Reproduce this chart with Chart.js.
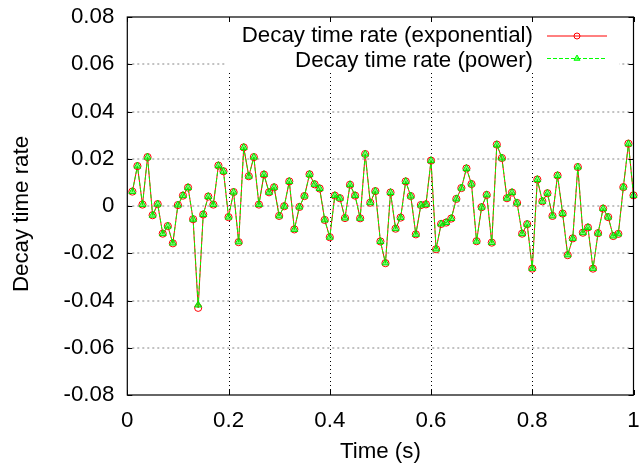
<!DOCTYPE html>
<html>
<head>
<meta charset="utf-8">
<script src="https://cdn.jsdelivr.net/npm/chart.js@4/dist/chart.umd.min.js"></script>
<style>
html,body{margin:0;padding:0;background:#fff;}
canvas{display:block;}
</style>
</head>
<body>
<canvas id="c" width="642" height="470"></canvas>
<script>
const times = [0.01,0.02,0.03,0.04,0.05,0.06,0.07,0.08,0.09,0.10,
0.11,0.12,0.13,0.14,0.15,0.16,0.17,0.18,0.19,0.20,
0.21,0.22,0.23,0.24,0.25,0.26,0.27,0.28,0.29,0.30,
0.31,0.32,0.33,0.34,0.35,0.36,0.37,0.38,0.39,0.40,
0.41,0.42,0.43,0.44,0.45,0.46,0.47,0.48,0.49,0.50,
0.51,0.52,0.53,0.54,0.55,0.56,0.57,0.58,0.59,0.60,
0.61,0.62,0.63,0.64,0.65,0.66,0.67,0.68,0.69,0.70,
0.71,0.72,0.73,0.74,0.75,0.76,0.77,0.78,0.79,0.80,
0.81,0.82,0.83,0.84,0.85,0.86,0.87,0.88,0.89,0.90,
0.91,0.92,0.93,0.94,0.95,0.96,0.97,0.98,0.99,1.00];

const expRate = [0.0061,0.0169,0.0006,0.0207,-0.0039,0.0008,-0.0117,-0.0085,-0.0158,0.0004,
0.0044,0.0078,-0.0056,-0.0431,-0.0036,0.0040,0.0006,0.0171,0.0147,-0.0047,
0.0059,-0.0153,0.0248,0.0126,0.0207,0.0006,0.0133,0.0058,0.0079,-0.0042,
-0.0001,0.0104,-0.0099,-0.0004,0.0042,0.0134,0.0092,0.0074,-0.0059,-0.0132,
0.0044,0.0033,-0.0051,0.0090,0.0044,-0.0052,0.0220,0.0014,0.0063,-0.0150,
-0.0242,0.0057,-0.0096,-0.0049,0.0104,0.0042,-0.0120,0.0004,0.0007,0.0192,
-0.0183,-0.0076,-0.0070,-0.0053,0.0030,0.0076,0.0159,0.0093,-0.0149,-0.0005,
0.0047,-0.0155,0.0260,0.0203,0.0033,0.0057,0.0013,-0.0117,-0.0077,-0.0265,
0.0112,0.0020,0.0054,-0.0042,0.0129,-0.0032,-0.0208,-0.0137,0.0165,-0.0113,
-0.0091,-0.0265,-0.0115,-0.0011,-0.0047,-0.0127,-0.0118,0.0080,0.0264,0.0045];

const powRate = [0.0061,0.0169,0.0006,0.0207,-0.0039,0.0008,-0.0117,-0.0085,-0.0157,0.0004,
0.0044,0.0078,-0.0056,-0.0419,-0.0036,0.0040,0.0006,0.0171,0.0147,-0.0047,
0.0059,-0.0152,0.0248,0.0126,0.0207,0.0006,0.0133,0.0058,0.0079,-0.0042,
-0.0001,0.0104,-0.0099,-0.0004,0.0042,0.0134,0.0092,0.0074,-0.0059,-0.0132,
0.0044,0.0033,-0.0051,0.0090,0.0044,-0.0052,0.0220,0.0014,0.0063,-0.0150,
-0.0241,0.0057,-0.0096,-0.0049,0.0104,0.0042,-0.0120,0.0004,0.0007,0.0192,
-0.0182,-0.0076,-0.0070,-0.0053,0.0030,0.0076,0.0159,0.0093,-0.0149,-0.0005,
0.0047,-0.0155,0.0259,0.0203,0.0033,0.0057,0.0013,-0.0117,-0.0077,-0.0264,
0.0112,0.0020,0.0054,-0.0042,0.0129,-0.0032,-0.0207,-0.0137,0.0165,-0.0113,
-0.0091,-0.0264,-0.0115,-0.0011,-0.0047,-0.0127,-0.0118,0.0080,0.0263,0.0045];

const seriesNames = ['Decay time rate (exponential)', 'Decay time rate (power)'];
const xTitle = 'Time (s)';
const yTitle = 'Decay time rate';

const FONT = '"Liberation Sans", Arial, Helvetica, sans-serif';
const FSIZE = 22.3;

const toXY = (xs, ys) => xs.map((t, i) => ({x: t, y: ys[i]}));

const framePlugin = {
  id: 'frame',
  beforeDatasetsDraw(chart) {
    const {ctx, chartArea: a, scales: {x, y}} = chart;
    ctx.save();
    ctx.lineWidth = 1;
    ctx.strokeStyle = '#858585';
    ctx.setLineDash([2, 3]);
    y.ticks.forEach(t => {
      if (t.value <= y.min + 1e-9 || t.value >= y.max - 1e-9) return;
      const py = Math.round(y.getPixelForValue(t.value));
      ctx.beginPath(); ctx.moveTo(a.left, py); ctx.lineTo(a.right, py); ctx.stroke();
    });
    ctx.strokeStyle = '#000';
    ctx.setLineDash([1, 3]);
    x.ticks.forEach(t => {
      if (t.value <= x.min + 1e-9 || t.value >= x.max - 1e-9) return;
      const px = Math.round(x.getPixelForValue(t.value)) + 0.5;
      ctx.beginPath(); ctx.moveTo(px, a.top); ctx.lineTo(px, a.bottom); ctx.stroke();
    });
    ctx.restore();
  },
  afterDatasetsDraw(chart) {
    const {ctx} = chart;
    ctx.save();
    ctx.fillStyle = '#fff';
    ctx.fillRect(226, 19, 393, 51);
    ctx.font = FSIZE + 'px ' + FONT;
    ctx.fillStyle = '#000';
    ctx.textAlign = 'right';
    ctx.textBaseline = 'alphabetic';
    ctx.fillText(seriesNames[0], 533, 42);
    ctx.fillText(seriesNames[1], 533, 66.5);
    // sample 1
    ctx.lineWidth = 1;
    ctx.strokeStyle = '#ff0000';
    ctx.beginPath(); ctx.moveTo(547, 36); ctx.lineTo(607, 36); ctx.stroke();
    ctx.beginPath(); ctx.arc(577, 36, 3, 0, Math.PI * 2); ctx.stroke();
    // sample 2
    ctx.strokeStyle = '#00ff00';
    ctx.setLineDash([4, 2]);
    ctx.beginPath(); ctx.moveTo(547, 58.5); ctx.lineTo(607, 58.5); ctx.stroke();
    ctx.setLineDash([]);
    const r = 3.5, cx = 577, cy = 58.5;
    ctx.beginPath();
    for (let k = 0; k < 3; k++) {
      const ang = k * 2 * Math.PI / 3;
      const px = cx + Math.sin(ang) * r, py = cy - Math.cos(ang) * r;
      if (k === 0) ctx.moveTo(px, py); else ctx.lineTo(px, py);
    }
    ctx.closePath();
    ctx.fillStyle = 'rgba(0,255,0,0.5)';
    ctx.fill();
    ctx.stroke();
    ctx.restore();
  },
  afterDraw(chart) {
    const {ctx, chartArea: a, scales: {x, y}} = chart;
    ctx.save();
    ctx.strokeStyle = '#000';
    ctx.lineWidth = 1;
    ctx.setLineDash([]);
    const tl = 5;
    y.ticks.forEach(t => {
      const py = Math.round(y.getPixelForValue(t.value)) + 0.5;
      ctx.beginPath(); ctx.moveTo(a.left, py); ctx.lineTo(a.left + tl, py); ctx.stroke();
      ctx.beginPath(); ctx.moveTo(a.right, py); ctx.lineTo(a.right - tl, py); ctx.stroke();
    });
    x.ticks.forEach(t => {
      const px = Math.round(x.getPixelForValue(t.value)) + 0.5;
      ctx.beginPath(); ctx.moveTo(px, a.bottom); ctx.lineTo(px, a.bottom - tl); ctx.stroke();
      ctx.beginPath(); ctx.moveTo(px, a.top); ctx.lineTo(px, a.top + tl); ctx.stroke();
    });
    ctx.lineWidth = 1.2;
    ctx.strokeRect(a.left, a.top, a.right - a.left, a.bottom - a.top);
    // axis titles
    ctx.fillStyle = '#000';
    ctx.font = FSIZE + 'px ' + FONT;
    ctx.textAlign = 'center';
    ctx.textBaseline = 'middle';
    ctx.fillText(xTitle, (a.left + a.right) / 2, 452);
    ctx.translate(22, 214);
    ctx.rotate(-Math.PI / 2);
    ctx.fillText(yTitle, 0, 0);
    ctx.restore();
  }
};

new Chart(document.getElementById('c'), {
  type: 'line',
  data: {
    datasets: [
      {
        label: seriesNames[0],
        data: toXY(times, expRate),
        borderColor: '#ff0000',
        borderWidth: 1,
        pointStyle: 'circle',
        pointRadius: 3.6,
        pointBorderColor: '#ff0000',
        pointBackgroundColor: 'rgba(255,255,255,0)',
        pointBorderWidth: 1,
        tension: 0,
        clip: false,
        order: 1
      },
      {
        label: seriesNames[1],
        data: toXY(times, powRate),
        borderColor: '#00ff00',
        borderWidth: 1,
        borderDash: [4, 2],
        pointStyle: 'triangle',
        pointRadius: 4,
        pointBorderColor: '#00e000',
        pointBackgroundColor: 'rgba(0,255,0,0.55)',
        pointBorderWidth: 1,
        tension: 0,
        clip: false,
        order: 0
      }
    ]
  },
  options: {
    responsive: false,
    devicePixelRatio: 1,
    animation: false,
    layout: {padding: {top: 17, right: 8.5, left: 0, bottom: 0}},
    plugins: {legend: {display: false}, tooltip: {enabled: false}},
    scales: {
      x: {
        type: 'linear',
        min: 0, max: 1,
        grid: {display: false, drawTicks: false},
        border: {display: false},
        ticks: {
          stepSize: 0.2,
          padding: 12,
          color: '#000',
          font: {family: FONT, size: FSIZE},
          maxRotation: 0,
          callback: v => String(Number(v.toFixed(1)))
        },
        afterFit: s => { s.height = 75; s.paddingLeft = 0; s.paddingRight = 0; }
      },
      y: {
        type: 'linear',
        min: -0.08, max: 0.08,
        grid: {display: false, drawTicks: false},
        border: {display: false},
        ticks: {
          stepSize: 0.02,
          padding: 13,
          color: '#000',
          font: {family: FONT, size: FSIZE},
          callback: v => Math.abs(v) < 1e-9 ? '0' : v.toFixed(2)
        },
        afterFit: s => { s.width = 127.3; s.paddingTop = 0; s.paddingBottom = 0; }
      }
    }
  },
  plugins: [framePlugin]
});
</script>
</body>
</html>
